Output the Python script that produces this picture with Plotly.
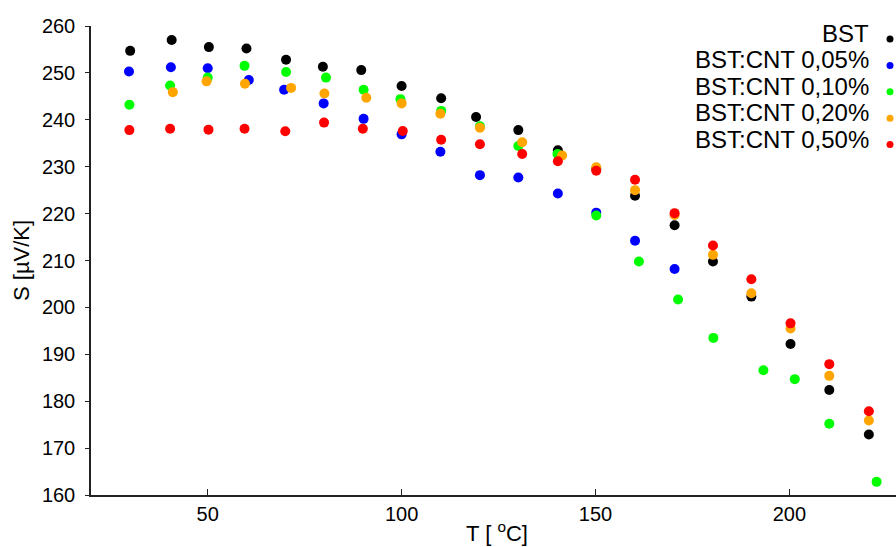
import plotly.graph_objects as go

series_names = ["BST", "BST:CNT 0,05%", "BST:CNT 0,10%", "BST:CNT 0,20%", "BST:CNT 0,50%"]
series_colors = ["#000000", "#0000ff", "#00ff00", "#ffa500", "#ff0000"]

t_bst = [30, 40.7, 50.3, 60, 70.2, 79.7, 89.6, 100, 110.2, 119.2, 130.1, 140.3, 150.2, 160.2, 170.4, 180.3, 190.2, 200.3, 210.3, 220.5]
s_bst = [254.7, 257.0, 255.5, 255.2, 252.8, 251.3, 250.6, 247.2, 244.6, 240.6, 237.8, 233.5, 229.5, 223.8, 217.5, 209.8, 202.3, 192.2, 182.4, 172.9]

t_005 = [29.7, 40.5, 50, 60.6, 69.7, 79.9, 90.2, 100, 110, 120.2, 130.1, 140.3, 150.2, 160.2, 170.4]
s_005 = [250.3, 251.2, 251.0, 248.5, 246.4, 243.5, 240.2, 236.9, 233.2, 228.2, 227.7, 224.3, 220.2, 214.2, 208.2]

t_010 = [29.8, 40.3, 50, 59.5, 70.2, 80.5, 90.2, 99.7, 110.2, 120.2, 130.1, 140.2, 150.2, 161.2, 171.3, 180.4, 193.3, 201.4, 210.3, 222.5]
s_010 = [243.2, 247.3, 249.0, 251.5, 250.2, 249.0, 246.4, 244.4, 241.9, 238.6, 234.4, 232.7, 219.6, 209.8, 201.7, 193.5, 186.6, 184.7, 175.2, 162.8]

t_020 = [41, 49.7, 59.6, 71.5, 80.1, 90.9, 100, 110, 120.2, 131.1, 141.4, 150.2, 160.2, 170.4, 180.3, 190.2, 200.3, 210.3, 220.5]
s_020 = [245.9, 248.2, 247.7, 246.8, 245.6, 244.7, 243.5, 241.3, 238.3, 235.2, 232.4, 229.9, 225.0, 219.7, 211.2, 203.0, 195.5, 185.4, 175.9]

t_050 = [29.8, 40.3, 50.2, 59.5, 70, 80, 90, 100.3, 110.2, 120.2, 131.1, 140.3, 150.2, 160.2, 170.4, 180.3, 190.2, 200.3, 210.3, 220.5]
s_050 = [237.8, 238.1, 237.9, 238.1, 237.55, 239.4, 238.1, 237.6, 235.75, 234.8, 232.7, 231.15, 229.15, 227.2, 220.1, 213.2, 206.0, 196.6, 187.9, 177.85]

x_ticks = [50, 100, 150, 200]
y_ticks = [160, 170, 180, 190, 200, 210, 220, 230, 240, 250, 260]

all_t = [t_bst, t_005, t_010, t_020, t_050]
all_s = [s_bst, s_005, s_010, s_020, s_050]

FONT = "Liberation Sans, Arial, sans-serif"
W, H = 896, 547
ML, MR, MT, MB = 91, 0, 26, 52
pw, ph = W - ML - MR, H - MT - MB

fig = go.Figure()
for name, col, tt, ss in zip(series_names, series_colors, all_t, all_s):
    fig.add_trace(go.Scatter(x=tt, y=ss, mode="markers", name=name,
                             marker=dict(color=col, size=10, line=dict(width=0)),
                             showlegend=False, cliponaxis=False))

# custom legend (text right-aligned, marker on the right)
row0_text, row0_mark, row_step = 33.5, 39.0, 26.4
legend_text_x = (871 - ML) / pw
legend_mark_x = (890 - ML) / pw
lx, ly = [], []
for i, (name, col) in enumerate(zip(series_names, series_colors)):
    yt = (H - MB - (row0_text + i * row_step)) / ph
    fig.add_annotation(x=legend_text_x, y=yt, xref="paper", yref="paper",
                       text=name, showarrow=False, xanchor="right", yanchor="middle",
                       font=dict(family=FONT, size=24, color="#000000"))
    lx.append(legend_mark_x)
    ly.append((H - MB - (row0_mark + i * row_step)) / ph)
fig.add_trace(go.Scatter(x=lx, y=ly, mode="markers", xaxis="x2", yaxis="y2",
                         marker=dict(color=series_colors, size=7, line=dict(width=0)),
                         showlegend=False, cliponaxis=False, hoverinfo="skip"))

# axis titles
fig.add_annotation(x=(497 - ML) / pw, y=(H - MB - 532) / ph, xref="paper", yref="paper",
                   text="T [ <sup>o</sup>C]", showarrow=False, xanchor="center", yanchor="middle",
                   font=dict(family=FONT, size=22, color="#000000"))
fig.add_annotation(x=(21 - ML) / pw, y=(H - MB - 261) / ph, xref="paper", yref="paper",
                   text="S [µV/K]", showarrow=False, textangle=-90, xanchor="center", yanchor="middle",
                   font=dict(family=FONT, size=22, color="#000000"))

fig.update_layout(
    width=W, height=H,
    margin=dict(l=ML, r=MR, t=MT, b=MB, pad=0),
    paper_bgcolor="white", plot_bgcolor="white",
    font=dict(family=FONT, size=20, color="#000000"),
    xaxis=dict(range=[19.9, 227.5], tickvals=x_ticks, ticks="inside", ticklen=6, tickwidth=1,
               tickcolor="#222", showline=True, linecolor="#222", linewidth=1.5,
               showgrid=False, zeroline=False, tickfont=dict(size=20), ticklabelstandoff=0),
    yaxis=dict(range=[160, 260], tickvals=y_ticks, ticks="outside", ticklen=4, tickwidth=1,
               tickcolor="#222", showline=True, linecolor="#222", linewidth=1.5,
               showgrid=False, zeroline=False, tickfont=dict(size=20), ticklabelstandoff=6),
    xaxis2=dict(range=[0, 1], overlaying="x", visible=False),
    yaxis2=dict(range=[0, 1], overlaying="y", visible=False),
)

fig.write_html("out.html", config={"displayModeBar": False},
               post_script="document.body.style.margin='0';document.body.style.padding='0';"
                           "document.body.style.overflow='hidden';")
